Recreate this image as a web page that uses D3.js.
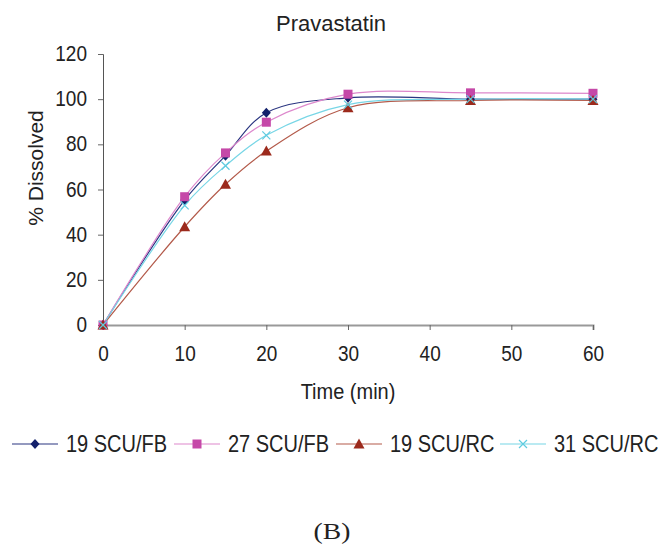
<!DOCTYPE html>
<html>
<head>
<meta charset="utf-8">
<script src="https://cdn.jsdelivr.net/npm/d3@7"></script>
<style>
  body { margin: 0; background: #fff; }
  text { font-family: "Liberation Sans", Arial, sans-serif; fill: #222; }
</style>
</head>
<body>
<script>
// Chart data
const times = [0, 10, 15, 20, 30, 45, 60];
const seriesNames = ["19 SCU/FB", "27 SCU/FB", "19 SCU/RC", "31 SCU/RC"];
const fb19 = [0, 55.3, 75, 94, 100.6, 100, 100];
const fb27 = [0, 56.8, 76.2, 89.8, 102.2, 102.8, 102.6];
const rc19 = [0, 43.5, 62.3, 77, 96.2, 99.4, 99.4];
const rc31 = [0, 53, 70.5, 84, 97.6, 100, 100];
const xTicks = [0, 10, 20, 30, 40, 50, 60];
const yTicks = [0, 20, 40, 60, 80, 100, 120];

const svgWidth = 659;
const svgHeight = 546;

const margin = { top: 54, right: 66, bottom: 221, left: 103 };
const chartWidth = svgWidth - margin.left - margin.right;
const chartHeight = svgHeight - margin.top - margin.bottom;

// text in the reference is a bit taller than wide
const stretch = 1.12;

const styles = [
  { line: "#2a3580", fill: "#13206b", shape: "diamond" },
  { line: "#dd88cc", fill: "#c548a8", shape: "square" },
  { line: "#b35a4a", fill: "#9c2a1c", shape: "triangle" },
  { line: "#77d6e6", fill: "#5fcbe0", shape: "cross" }
];
const allSeries = [fb19, fb27, rc19, rc31];

let svg = d3.select("body").append("svg")
  .attr("width", svgWidth)
  .attr("height", svgHeight);

let chartGroup = svg.append("g")
  .attr("transform", `translate(${margin.left}, ${margin.top})`);

let xScale = d3.scaleLinear().domain([0, 60]).range([0, chartWidth]);
let yScale = d3.scaleLinear().domain([0, 120]).range([chartHeight, 0]);

// Axes
let leftAxis = d3.axisLeft(yScale).tickValues(yTicks).tickSize(5);
let bottomAxis = d3.axisBottom(xScale).tickValues(xTicks).tickSize(5);

let yAxisG = chartGroup.append("g").call(leftAxis);
let xAxisG = chartGroup.append("g")
  .attr("transform", `translate(0, ${chartHeight})`)
  .call(bottomAxis);

xAxisG.select(".domain").attr("stroke", "#999").attr("stroke-width", 2);
yAxisG.select(".domain").attr("stroke", "#555").attr("stroke-width", 1);
[yAxisG, xAxisG].forEach(g => {
  g.selectAll(".tick line").attr("stroke", "#666");
  g.selectAll(".tick text")
    .style("font-family", "Liberation Sans, Arial, sans-serif")
    .style("font-size", "19px")
    .attr("fill", "#222")
    .attr("x", null).attr("y", null).attr("dy", null);
});
xAxisG.selectAll(".tick text").attr("transform", `translate(0, 36) scale(1, ${stretch})`);
yAxisG.selectAll(".tick text").attr("transform", `translate(-16, 6.5) scale(1, ${stretch})`);

// Symbol helper
function marker(g, shape, x, y, st) {
  if (shape === "diamond") {
    g.append("path").attr("d", `M${x},${y - 5}L${x + 4.5},${y}L${x},${y + 5}L${x - 4.5},${y}Z`).attr("fill", st.fill);
  } else if (shape === "square") {
    g.append("rect").attr("x", x - 4.5).attr("y", y - 4.5).attr("width", 9).attr("height", 9).attr("fill", st.fill);
  } else if (shape === "triangle") {
    g.append("path").attr("d", `M${x},${y - 5.5}L${x + 5.5},${y + 4.5}L${x - 5.5},${y + 4.5}Z`).attr("fill", st.fill);
  } else {
    g.append("path").attr("d", `M${x - 4},${y - 4}L${x + 4},${y + 4}M${x - 4},${y + 4}L${x + 4},${y - 4}`)
      .attr("stroke", st.fill).attr("stroke-width", 1.2).attr("fill", "none");
  }
}

let createLine = d3.line()
  .x((d, i) => xScale(times[i]))
  .y(d => yScale(d))
  .curve(d3.curveCatmullRom.alpha(0.5));

allSeries.forEach((values, si) => {
  chartGroup.append("path")
    .attr("d", createLine(values))
    .attr("fill", "none")
    .attr("stroke", styles[si].line)
    .attr("stroke-width", 1.2);
});
allSeries.forEach((values, si) => {
  let mg = chartGroup.append("g");
  values.forEach((v, i) => marker(mg, styles[si].shape, xScale(times[i]), yScale(v), styles[si]));
});

// Titles
svg.append("text").attr("transform", "translate(331, 31)").attr("text-anchor", "middle")
  .style("font-size", "22px").text("Pravastatin");
svg.append("text").attr("transform", `translate(348, 399) scale(1, ${stretch})`).attr("text-anchor", "middle")
  .style("font-size", "20px").text("Time (min)");
svg.append("text")
  .attr("transform", "translate(43, 168) rotate(-90)")
  .attr("text-anchor", "middle")
  .style("font-size", "21px").text("% Dissolved");

// Legend
const legendX = [12, 174, 336, 500];
let legend = svg.append("g").attr("transform", "translate(0, 444)");
seriesNames.forEach((name, i) => {
  let x0 = legendX[i];
  legend.append("line").attr("x1", x0).attr("x2", x0 + 46).attr("y1", 0).attr("y2", 0)
    .attr("stroke", styles[i].line).attr("stroke-width", 1.2);
  marker(legend, styles[i].shape, x0 + 23, 0, styles[i]);
  legend.append("text").attr("transform", `translate(${x0 + 54}, 8) scale(1, ${stretch + 0.05})`)
    .style("font-size", "20px").text(name);
});

svg.append("text").attr("transform", "translate(332, 539) scale(1.15, 1)").attr("text-anchor", "middle")
  .style("font-family", "Liberation Serif, Times New Roman, serif")
  .style("font-size", "24px").text("(B)");
</script>
</body>
</html>
